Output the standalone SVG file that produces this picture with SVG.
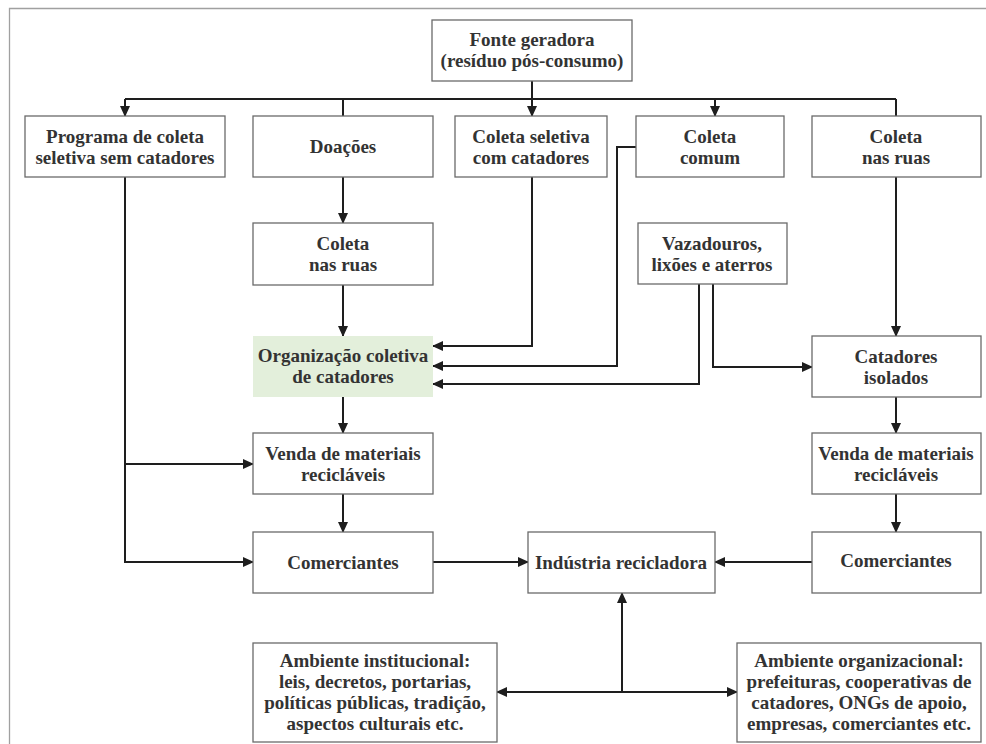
<svg xmlns="http://www.w3.org/2000/svg" width="986" height="744" viewBox="0 0 986 744">
<style>
.box{fill:#fff;stroke:#6a6a6a;stroke-width:1.3}
.green{fill:#e3efdb;stroke:none}
text{font-family:"Liberation Serif","Times New Roman",serif;font-weight:bold;font-size:19px;fill:#333;text-anchor:middle}
.c{fill:none;stroke:#1e1e1e;stroke-width:2}
</style>
<defs>
<marker id="ah" markerUnits="userSpaceOnUse" markerWidth="11" markerHeight="10" refX="10" refY="5" orient="auto-start-reverse">
<path d="M0,0 L11,5 L0,10 z" fill="#1e1e1e"/>
</marker>
</defs>
<rect width="986" height="744" fill="#fff"/>
<path d="M9.5,744 V8.5 H986" fill="none" stroke="#a0a0a0" stroke-width="1.3"/>

<g id="connectors">
<path class="c" d="M532,81 V116" marker-end="url(#ah)"/>
<path class="c" d="M125,99 H896"/>
<path class="c" d="M125,99 V116" marker-end="url(#ah)"/>
<path class="c" d="M343,99 V116"/>
<path class="c" d="M715,99 V116" marker-end="url(#ah)"/>
<path class="c" d="M896,99 V116"/>
<path class="c" d="M343,177 V223" marker-end="url(#ah)"/>
<path class="c" d="M343,285 V336" marker-end="url(#ah)"/>
<path class="c" d="M532,177 V346 H433" marker-end="url(#ah)"/>
<path class="c" d="M636,147 H617 V366 H433" marker-end="url(#ah)"/>
<path class="c" d="M699,284 V384 H433" marker-end="url(#ah)"/>
<path class="c" d="M713,284 V367 H812" marker-end="url(#ah)"/>
<path class="c" d="M896,177 V336" marker-end="url(#ah)"/>
<path class="c" d="M896,397 V433" marker-end="url(#ah)"/>
<path class="c" d="M896,494 V532" marker-end="url(#ah)"/>
<path class="c" d="M812,562 H715" marker-end="url(#ah)"/>
<path class="c" d="M343,397 V433" marker-end="url(#ah)"/>
<path class="c" d="M343,494 V532" marker-end="url(#ah)"/>
<path class="c" d="M433,562 H528" marker-end="url(#ah)"/>
<path class="c" d="M125,177 V562 H253" marker-end="url(#ah)"/>
<path class="c" d="M125,464 H253" marker-end="url(#ah)"/>
<path class="c" d="M622,692 V593" marker-end="url(#ah)"/>
<path class="c" d="M497,692 H737" marker-start="url(#ah)" marker-end="url(#ah)"/>
</g>

<g id="fonte"><rect class="box" x="432" y="20" width="200" height="61"/>
<text x="532" y="46">Fonte geradora</text><text x="532" y="67">(resíduo pós-consumo)</text></g>

<g id="programa"><rect class="box" x="25" y="116" width="200" height="61"/>
<text x="125" y="143">Programa de coleta</text><text x="125" y="164">seletiva sem catadores</text></g>

<g id="doacoes"><rect class="box" x="253" y="116" width="180" height="61"/>
<text x="343" y="153">Doações</text></g>

<g id="coleta-seletiva"><rect class="box" x="455" y="116" width="152" height="61"/>
<text x="531" y="143">Coleta seletiva</text><text x="531" y="164">com catadores</text></g>

<g id="coleta-comum"><rect class="box" x="636" y="116" width="148" height="61"/>
<text x="710" y="143">Coleta</text><text x="710" y="164">comum</text></g>

<g id="coleta-ruas-dir"><rect class="box" x="812" y="116" width="169" height="61"/>
<text x="896" y="143">Coleta</text><text x="896" y="164">nas ruas</text></g>

<g id="coleta-ruas-esq"><rect class="box" x="253" y="223" width="180" height="62"/>
<text x="343" y="250">Coleta</text><text x="343" y="271">nas ruas</text></g>

<g id="vazadouros"><rect class="box" x="638" y="223" width="149" height="61"/>
<text x="712" y="250">Vazadouros,</text><text x="712" y="271">lixões e aterros</text></g>

<g id="organizacao"><rect class="green" x="253" y="336" width="180" height="61"/>
<text x="343" y="362">Organização coletiva</text><text x="343" y="383">de catadores</text></g>

<g id="catadores-isolados"><rect class="box" x="812" y="336" width="169" height="61"/>
<text x="896" y="363">Catadores</text><text x="896" y="384">isolados</text></g>

<g id="venda-esq"><rect class="box" x="253" y="433" width="180" height="61"/>
<text x="343" y="460">Venda de materiais</text><text x="343" y="481">recicláveis</text></g>

<g id="venda-dir"><rect class="box" x="812" y="433" width="169" height="61"/>
<text x="896" y="460">Venda de materiais</text><text x="896" y="481">recicláveis</text></g>

<g id="comerciantes-esq"><rect class="box" x="253" y="532" width="180" height="61"/>
<text x="343" y="569">Comerciantes</text></g>

<g id="industria"><rect class="box" x="528" y="532" width="187" height="61"/>
<text x="621" y="569">Indústria recicladora</text></g>

<g id="comerciantes-dir"><rect class="box" x="812" y="532" width="169" height="61"/>
<text x="896" y="567">Comerciantes</text></g>

<g id="ambiente-institucional"><rect class="box" x="253" y="643" width="244" height="99"/>
<text x="375" y="667">Ambiente institucional:</text>
<text x="375" y="688">leis, decretos, portarias,</text>
<text x="375" y="709">políticas públicas, tradição,</text>
<text x="375" y="730">aspectos culturais etc.</text></g>

<g id="ambiente-organizacional"><rect class="box" x="737" y="643" width="244" height="99"/>
<text x="859" y="667">Ambiente organizacional:</text>
<text x="859" y="688">prefeituras, cooperativas de</text>
<text x="859" y="709">catadores, ONGs de apoio,</text>
<text x="859" y="730">empresas, comerciantes etc.</text></g>
</svg>
